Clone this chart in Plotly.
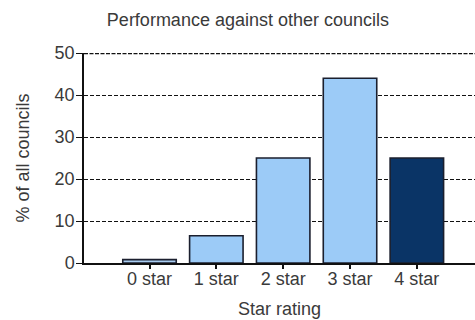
import plotly.graph_objects as go

# Share of councils at each star rating
categories = ["0 star", "1 star", "2 star", "3 star", "4 star"]
percent_of_councils = [0.8, 6.5, 25, 44, 25]
bar_colors = ["#a9cdf0", "#9ccbf7", "#9ccbf7", "#9ccbf7", "#0a3466"]
y_ticks = [0, 10, 20, 30, 40, 50]

FONT = "Liberation Sans, Arial, sans-serif"
TEXT = "#3a3a3a"
SIZE = 18

fig = go.Figure(
    go.Bar(
        x=categories,
        y=percent_of_councils,
        width=0.8,
        marker=dict(color=bar_colors, line=dict(color="#1b1f2e", width=1.6)),
        hoverinfo="x+y",
    )
)

fig.update_layout(
    width=475,
    height=320,
    margin=dict(l=84, r=0, t=53, b=57),
    paper_bgcolor="white",
    plot_bgcolor="white",
    showlegend=False,
    font=dict(family=FONT, size=SIZE, color=TEXT),
    title=dict(
        text="Performance against other councils",
        x=0.522,
        xanchor="center",
        y=0.94,
        yanchor="middle",
        font=dict(family=FONT, size=SIZE, color=TEXT),
    ),
    xaxis=dict(
        type="category",
        range=[-0.98, 4.87],
        showline=True,
        linecolor="#111",
        linewidth=1.5,
        ticks="outside",
        ticklen=4,
        tickwidth=1.5,
        tickcolor="#111",
        ticklabelstandoff=-5,
        tickfont=dict(size=SIZE, color=TEXT),
        showgrid=False,
        title=dict(text="Star rating", standoff=14, font=dict(size=SIZE, color=TEXT)),
    ),
    yaxis=dict(
        range=[0, 50],
        tickvals=y_ticks,
        showline=True,
        linecolor="#111",
        linewidth=1.5,
        ticks="outside",
        ticklen=6,
        tickwidth=1.2,
        tickcolor="#111",
        ticklabelstandoff=-2,
        tickfont=dict(size=SIZE, color=TEXT),
        showgrid=True,
        gridcolor="#111",
        gridwidth=1,
        griddash="4px,2px",
        zeroline=False,
        title=dict(text="% of all councils", standoff=20, font=dict(size=SIZE, color=TEXT)),
    ),
)

# Heavier dashed rule along the top of the value axis
fig.add_shape(
    type="line",
    xref="paper",
    yref="y",
    x0=0,
    x1=1,
    y0=y_ticks[-1],
    y1=y_ticks[-1],
    line=dict(color="#111", width=2.5, dash="4px,1.5px"),
)

fig.write_html("out.html")
